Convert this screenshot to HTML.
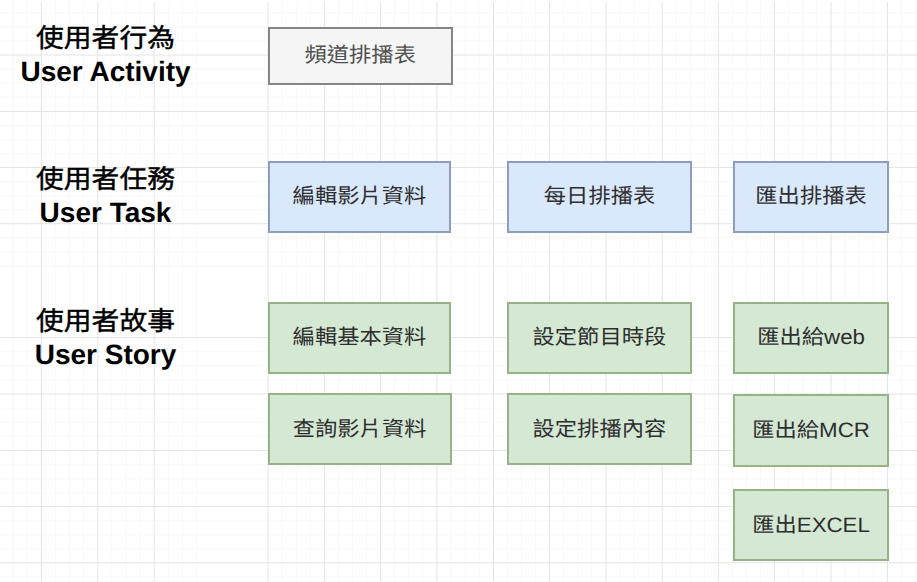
<!DOCTYPE html>
<html lang="zh-TW"><head><meta charset="utf-8"><title>User Story Map</title>
<style>
html,body{margin:0;padding:0;background:#fff;}
body{width:917px;height:582px;overflow:hidden;position:relative;font-family:"Liberation Sans",sans-serif;}
.grid{position:absolute;left:0;top:0;shape-rendering:auto;}
.grid line{stroke-width:1;}
.box{position:absolute;box-sizing:border-box;border:2px solid;display:flex;align-items:center;justify-content:center;font-size:22.3px;line-height:1;text-rendering:geometricPrecision;white-space:nowrap;}
.box span{position:relative;transform:scale(1,0.93);}
.g{background:#f5f5f5;border-color:#858585;color:#505050;}
.b{background:#dae8fc;border-color:#8c9dbf;color:#2e2e2e;}
.e{background:#d5e8d4;border-color:#95b387;color:#2e2e2e;}
.l1,.l2{position:absolute;left:5px;text-rendering:geometricPrecision;width:201px;text-align:center;color:#000;white-space:nowrap;}
.l1{font-size:27.5px;line-height:30px;font-weight:400;transform:scale(1.01,0.95);-webkit-text-stroke:0.45px #000;}
.l2{font-size:28px;line-height:30px;font-weight:bold;}
</style></head><body>
<svg class="grid" width="917" height="582" viewBox="0 0 917 582"><line x1="55.48" y1="2" x2="55.48" y2="582" stroke="#f9f9f9"/><line x1="69.56" y1="2" x2="69.56" y2="582" stroke="#f9f9f9"/><line x1="83.64" y1="2" x2="83.64" y2="582" stroke="#f9f9f9"/><line x1="111.88" y1="2" x2="111.88" y2="582" stroke="#f9f9f9"/><line x1="125.96" y1="2" x2="125.96" y2="582" stroke="#f9f9f9"/><line x1="140.04" y1="2" x2="140.04" y2="582" stroke="#f9f9f9"/><line x1="168.28" y1="2" x2="168.28" y2="582" stroke="#f9f9f9"/><line x1="182.36" y1="2" x2="182.36" y2="582" stroke="#f9f9f9"/><line x1="196.44" y1="2" x2="196.44" y2="582" stroke="#f9f9f9"/><line x1="282.18" y1="2" x2="282.18" y2="582" stroke="#f9f9f9"/><line x1="296.26" y1="2" x2="296.26" y2="582" stroke="#f9f9f9"/><line x1="310.34" y1="2" x2="310.34" y2="582" stroke="#f9f9f9"/><line x1="338.38" y1="2" x2="338.38" y2="582" stroke="#f9f9f9"/><line x1="352.46" y1="2" x2="352.46" y2="582" stroke="#f9f9f9"/><line x1="366.54" y1="2" x2="366.54" y2="582" stroke="#f9f9f9"/><line x1="394.58" y1="2" x2="394.58" y2="582" stroke="#f9f9f9"/><line x1="408.66" y1="2" x2="408.66" y2="582" stroke="#f9f9f9"/><line x1="422.74" y1="2" x2="422.74" y2="582" stroke="#f9f9f9"/><line x1="450.98" y1="2" x2="450.98" y2="582" stroke="#f9f9f9"/><line x1="465.06" y1="2" x2="465.06" y2="582" stroke="#f9f9f9"/><line x1="479.14" y1="2" x2="479.14" y2="582" stroke="#f9f9f9"/><line x1="507.48" y1="2" x2="507.48" y2="582" stroke="#f9f9f9"/><line x1="521.56" y1="2" x2="521.56" y2="582" stroke="#f9f9f9"/><line x1="535.64" y1="2" x2="535.64" y2="582" stroke="#f9f9f9"/><line x1="563.58" y1="2" x2="563.58" y2="582" stroke="#f9f9f9"/><line x1="577.66" y1="2" x2="577.66" y2="582" stroke="#f9f9f9"/><line x1="591.74" y1="2" x2="591.74" y2="582" stroke="#f9f9f9"/><line x1="620.08" y1="2" x2="620.08" y2="582" stroke="#f9f9f9"/><line x1="634.16" y1="2" x2="634.16" y2="582" stroke="#f9f9f9"/><line x1="648.24" y1="2" x2="648.24" y2="582" stroke="#f9f9f9"/><line x1="676.28" y1="2" x2="676.28" y2="582" stroke="#f9f9f9"/><line x1="690.36" y1="2" x2="690.36" y2="582" stroke="#f9f9f9"/><line x1="704.44" y1="2" x2="704.44" y2="582" stroke="#f9f9f9"/><line x1="732.48" y1="2" x2="732.48" y2="582" stroke="#f9f9f9"/><line x1="746.56" y1="2" x2="746.56" y2="582" stroke="#f9f9f9"/><line x1="760.64" y1="2" x2="760.64" y2="582" stroke="#f9f9f9"/><line x1="788.58" y1="2" x2="788.58" y2="582" stroke="#f9f9f9"/><line x1="802.66" y1="2" x2="802.66" y2="582" stroke="#f9f9f9"/><line x1="816.74" y1="2" x2="816.74" y2="582" stroke="#f9f9f9"/><line x1="845.08" y1="2" x2="845.08" y2="582" stroke="#f9f9f9"/><line x1="859.16" y1="2" x2="859.16" y2="582" stroke="#f9f9f9"/><line x1="873.24" y1="2" x2="873.24" y2="582" stroke="#f9f9f9"/><line x1="901.48" y1="2" x2="901.48" y2="582" stroke="#f9f9f9"/><line x1="915.56" y1="2" x2="915.56" y2="582" stroke="#f9f9f9"/><line x1="27.32" y1="2" x2="27.32" y2="582" stroke="#f9f9f9"/><line x1="13.24" y1="2" x2="13.24" y2="582" stroke="#f9f9f9"/><line x1="0" y1="69.08" x2="917" y2="69.08" stroke="#f9f9f9"/><line x1="0" y1="83.16" x2="917" y2="83.16" stroke="#f9f9f9"/><line x1="0" y1="97.24" x2="917" y2="97.24" stroke="#f9f9f9"/><line x1="0" y1="125.58" x2="917" y2="125.58" stroke="#f9f9f9"/><line x1="0" y1="139.66" x2="917" y2="139.66" stroke="#f9f9f9"/><line x1="0" y1="153.74" x2="917" y2="153.74" stroke="#f9f9f9"/><line x1="0" y1="181.58" x2="917" y2="181.58" stroke="#f9f9f9"/><line x1="0" y1="195.66" x2="917" y2="195.66" stroke="#f9f9f9"/><line x1="0" y1="209.74" x2="917" y2="209.74" stroke="#f9f9f9"/><line x1="0" y1="237.78" x2="917" y2="237.78" stroke="#f9f9f9"/><line x1="0" y1="251.86" x2="917" y2="251.86" stroke="#f9f9f9"/><line x1="0" y1="265.94" x2="917" y2="265.94" stroke="#f9f9f9"/><line x1="0" y1="351.68" x2="917" y2="351.68" stroke="#f9f9f9"/><line x1="0" y1="365.76" x2="917" y2="365.76" stroke="#f9f9f9"/><line x1="0" y1="379.84" x2="917" y2="379.84" stroke="#f9f9f9"/><line x1="0" y1="408.18" x2="917" y2="408.18" stroke="#f9f9f9"/><line x1="0" y1="422.26" x2="917" y2="422.26" stroke="#f9f9f9"/><line x1="0" y1="436.34" x2="917" y2="436.34" stroke="#f9f9f9"/><line x1="0" y1="464.68" x2="917" y2="464.68" stroke="#f9f9f9"/><line x1="0" y1="478.76" x2="917" y2="478.76" stroke="#f9f9f9"/><line x1="0" y1="492.84" x2="917" y2="492.84" stroke="#f9f9f9"/><line x1="0" y1="520.68" x2="917" y2="520.68" stroke="#f9f9f9"/><line x1="0" y1="534.76" x2="917" y2="534.76" stroke="#f9f9f9"/><line x1="0" y1="548.84" x2="917" y2="548.84" stroke="#f9f9f9"/><line x1="0" y1="576.88" x2="917" y2="576.88" stroke="#f9f9f9"/><line x1="0" y1="40.92" x2="917" y2="40.92" stroke="#f9f9f9"/><line x1="0" y1="26.84" x2="917" y2="26.84" stroke="#f9f9f9"/><line x1="0" y1="12.76" x2="917" y2="12.76" stroke="#f9f9f9"/><line x1="41.40" y1="2" x2="41.40" y2="582" stroke="#e4e4e4"/><line x1="97.80" y1="2" x2="97.80" y2="582" stroke="#e4e4e4"/><line x1="154.20" y1="2" x2="154.20" y2="582" stroke="#e4e4e4"/><line x1="268.10" y1="2" x2="268.10" y2="582" stroke="#e4e4e4"/><line x1="324.30" y1="2" x2="324.30" y2="582" stroke="#e4e4e4"/><line x1="380.50" y1="2" x2="380.50" y2="582" stroke="#e4e4e4"/><line x1="436.90" y1="2" x2="436.90" y2="582" stroke="#e4e4e4"/><line x1="493.40" y1="2" x2="493.40" y2="582" stroke="#e4e4e4"/><line x1="549.50" y1="2" x2="549.50" y2="582" stroke="#e4e4e4"/><line x1="606.00" y1="2" x2="606.00" y2="582" stroke="#e4e4e4"/><line x1="662.20" y1="2" x2="662.20" y2="582" stroke="#e4e4e4"/><line x1="718.40" y1="2" x2="718.40" y2="582" stroke="#e4e4e4"/><line x1="774.50" y1="2" x2="774.50" y2="582" stroke="#e4e4e4"/><line x1="831.00" y1="2" x2="831.00" y2="582" stroke="#e4e4e4"/><line x1="887.40" y1="2" x2="887.40" y2="582" stroke="#e4e4e4"/><line x1="0" y1="55.00" x2="917" y2="55.00" stroke="#e4e4e4"/><line x1="0" y1="111.50" x2="917" y2="111.50" stroke="#e4e4e4"/><line x1="0" y1="167.50" x2="917" y2="167.50" stroke="#e4e4e4"/><line x1="0" y1="223.70" x2="917" y2="223.70" stroke="#e4e4e4"/><line x1="0" y1="337.60" x2="917" y2="337.60" stroke="#e4e4e4"/><line x1="0" y1="394.10" x2="917" y2="394.10" stroke="#e4e4e4"/><line x1="0" y1="450.60" x2="917" y2="450.60" stroke="#e4e4e4"/><line x1="0" y1="506.60" x2="917" y2="506.60" stroke="#e4e4e4"/><line x1="0" y1="562.80" x2="917" y2="562.80" stroke="#e4e4e4"/></svg>
<div class="box g" style="left:267.60px;top:26.80px;width:185.20px;height:58.20px"><span style="top:-0.4px">頻道排播表</span></div><div class="box b" style="left:267.60px;top:160.70px;width:183.80px;height:72.30px"><span style="top:-1px">編輯影片資料</span></div><div class="box b" style="left:507.20px;top:160.70px;width:184.70px;height:72.30px"><span style="top:-1px">每日排播表</span></div><div class="box b" style="left:732.90px;top:160.70px;width:156.30px;height:72.30px"><span style="top:-1px">匯出排播表</span></div><div class="box e" style="left:267.60px;top:301.50px;width:183.80px;height:72.60px"><span style="top:-0.3px">編輯基本資料</span></div><div class="box e" style="left:507.20px;top:301.50px;width:184.40px;height:72.60px"><span style="top:-0.3px">設定節目時段</span></div><div class="box e" style="left:732.90px;top:301.80px;width:156.30px;height:72.10px"><span style="top:-0.3px">匯出給web</span></div><div class="box e" style="left:267.60px;top:393.10px;width:184.00px;height:72.40px"><span style="top:-0.5px">查詢影片資料</span></div><div class="box e" style="left:507.20px;top:393.10px;width:184.40px;height:72.40px"><span style="top:-0.5px">設定排播內容</span></div><div class="box e" style="left:732.90px;top:394.20px;width:156.30px;height:72.70px"><span style="top:-0.5px">匯出給MCR</span></div><div class="box e" style="left:732.90px;top:489.20px;width:156.30px;height:72.20px"><span style="top:0px">匯出EXCEL</span></div>
<div class="l1" style="top:23.3px">使用者行為</div><div class="l2" style="top:57px">User Activity</div><div class="l1" style="top:164.3px">使用者任務</div><div class="l2" style="top:198px">User Task</div><div class="l1" style="top:305.9px">使用者故事</div><div class="l2" style="top:340px">User Story</div>
</body></html>
